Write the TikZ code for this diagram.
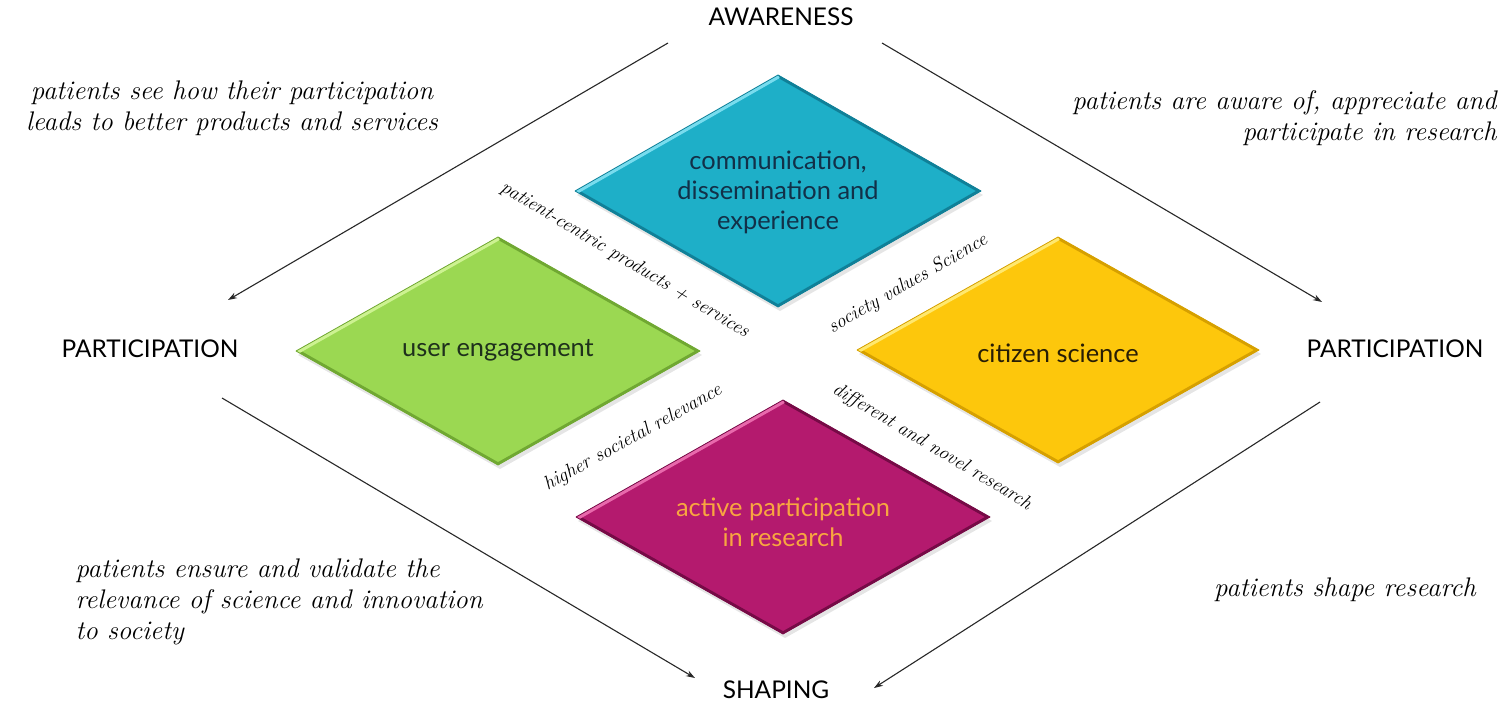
\documentclass[tikz,border=0pt]{standalone}
\usepackage{fontspec}
\newfontfamily\sans{Lato}
\usetikzlibrary{arrows.meta}

\definecolor{cyanfill}{RGB}{30,175,200}
\definecolor{cyanlight}{RGB}{120,220,238}
\definecolor{cyandark}{RGB}{16,128,152}
\definecolor{greenfill}{RGB}{155,216,82}
\definecolor{greenlight}{RGB}{205,242,145}
\definecolor{greendark}{RGB}{112,168,50}
\definecolor{yellowfill}{RGB}{253,199,12}
\definecolor{yellowlight}{RGB}{255,232,110}
\definecolor{yellowdark}{RGB}{214,160,0}
\definecolor{magentafill}{RGB}{180,26,110}
\definecolor{magentalight}{RGB}{232,105,172}
\definecolor{magentadark}{RGB}{118,10,70}
\definecolor{navytext}{RGB}{18,48,72}
\definecolor{greentext}{RGB}{30,48,28}
\definecolor{yellowtext}{RGB}{40,30,5}
\definecolor{orangetext}{RGB}{248,166,64}
\definecolor{arrowgray}{RGB}{40,40,40}

% bevelled diamond: #1 centre, #2 half width, #3 half height, #4 fill, #5 light edge, #6 dark edge
\newcommand\bevelgem[6]{%
  \begin{scope}[shift={#1}]
    \fill[black, opacity=0.10] (2,-#3+4) -- (#2+2,4) -- (2,#3+4) -- (-#2+2,4) -- cycle;
    \fill[#4] (0,-#3) -- (#2,0) -- (0,#3) -- (-#2,0) -- cycle;
    \begin{scope}
      \clip (0,-#3) -- (#2,0) -- (0,#3) -- (-#2,0) -- cycle;
      \draw[#6, line width=5bp, line join=round] (-#2,0) -- (0,#3) -- (#2,0) -- (0,-#3);
      \draw[#5, line width=7bp, line join=round] (-#2,0) -- (0,-#3);
    \end{scope}
    \draw[#6, line width=0.8bp, line join=round] (0,-#3) -- (#2,0) -- (0,#3) -- (-#2,0) -- cycle;
  \end{scope}}

\begin{document}
\begin{tikzpicture}[x=1bp, y=-1bp,
  axislab/.style={font=\sans\fontsize{24.5}{28}\selectfont, text=black},
  gemtext/.style={font=\sans\fontsize{25.5}{30}\selectfont, align=center},
  note/.style={font=\itshape\fontsize{27}{31.5}\selectfont},
  edgelab/.style={font=\itshape\fontsize{19.5}{21}\selectfont},
  flow/.style={draw=arrowgray, line width=1.1bp, -{Stealth[length=9bp,width=6bp]}}]

  \useasboundingbox[fill=white] (0,0) rectangle (1509,709);

  % the four quadrants
  \bevelgem{(778,191)}{203}{116}{cyanfill}{cyanlight}{cyandark}
  \bevelgem{(498,351)}{202}{114}{greenfill}{greenlight}{greendark}
  \bevelgem{(1058,350)}{201}{113}{yellowfill}{yellowlight}{yellowdark}
  \bevelgem{(783,517)}{207}{117}{magentafill}{magentalight}{magentadark}

  \node[gemtext, text=navytext] (comm) at (778,192) {communication,\\dissemination and\\experience};
  \node[gemtext, text=greentext] (user) at (498,350) {user engagement};
  \node[gemtext, text=yellowtext] (citizen) at (1058,353) {citizen science};
  \node[gemtext, text=orangetext] (active) at (783,522) {active participation\\in research};

  % axis labels
  \node[axislab] (aware) at (781,17) {AWARENESS};
  \node[axislab] (partl) at (150,349) {PARTICIPATION};
  \node[axislab] (partr) at (1395,349) {PARTICIPATION};
  \node[axislab] (shape) at (776,690) {SHAPING};

  % arrow end points
  \coordinate (tlA) at (668,43);  \coordinate (tlB) at (228,300);
  \coordinate (trA) at (882,43);  \coordinate (trB) at (1322,302);
  \coordinate (blA) at (222,398); \coordinate (blB) at (695,678);
  \coordinate (brA) at (1320,402); \coordinate (brB) at (874,688);

  \draw[flow] (tlA) -- (tlB);
  \draw[flow] (trA) -- (trB);
  \draw[flow] (blA) -- (blB);
  \draw[flow] (brA) -- (brB);

  % notes
  \node[note, align=center] (n1) at (232,108) {patients see how their participation\\leads to better products and services};
  \node[note, align=right, anchor=east] (n2) at (1500,118) {patients are aware of, appreciate and\\participate in research};
  \node[note, align=left, anchor=west] (n3) at (72,602) {patients ensure and validate the\\relevance of science and innovation\\to society};
  \node[note] (n4) at (1345,590) {patients shape research};

  % labels between the quadrants
  \node[edgelab, rotate=-31] (e1) at (625,260) {patient-centric products + services};
  \node[edgelab, rotate=30] (e2) at (908,284) {society values Science};
  \node[edgelab, rotate=-31] (e3) at (932,447) {different and novel research};
  \node[edgelab, rotate=29] (e4) at (633,438) {higher societal relevance};
\end{tikzpicture}
\end{document}
